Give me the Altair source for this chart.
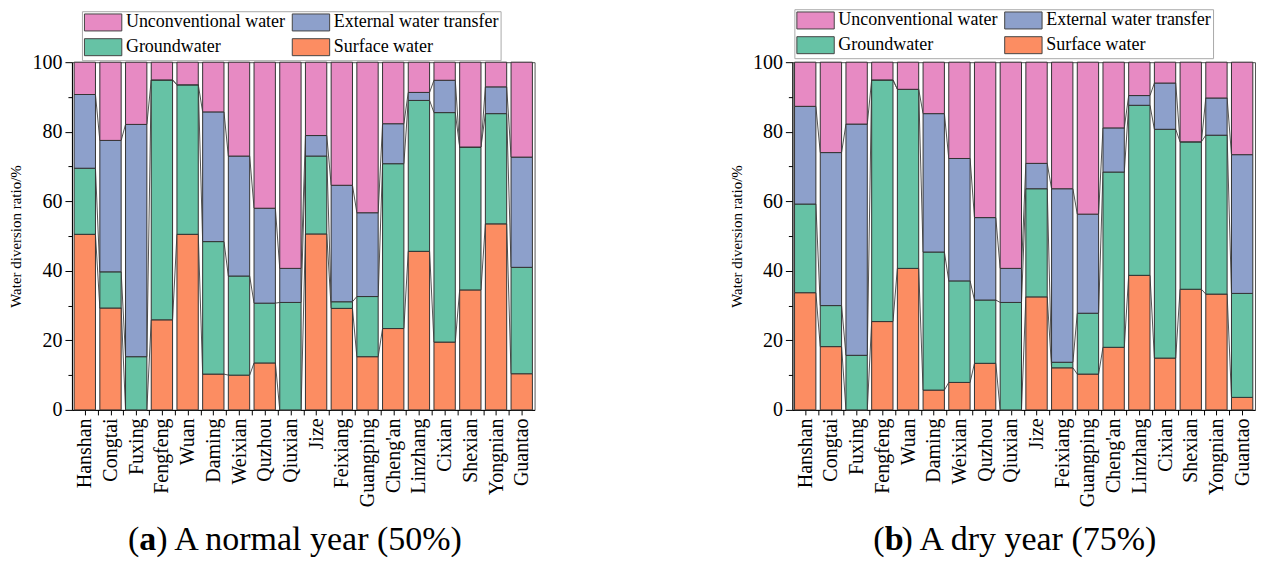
import json
import altair as alt
import pandas as pd

districts = ["Hanshan", "Congtai", "Fuxing", "Fengfeng", "Wuan", "Daming", "Weixian",
             "Quzhou", "Qiuxian", "Jize", "Feixiang", "Guangping", "Cheng'an", "Linzhang",
             "Cixian", "Shexian", "Yongnian", "Guantao"]

sources = ["Surface water", "Groundwater", "External water transfer", "Unconventional water"]
legend_order = ["Unconventional water", "External water transfer", "Groundwater", "Surface water"]
legend_colors = ["#E78AC3", "#8DA0CB", "#66C2A5", "#FC8D62"]

# (a) normal year (50%) - shares in %
normal_surface = [50.5, 29.3, 0.0, 25.9, 50.5, 10.3, 10.0, 13.5, 0.0, 50.6, 29.2, 15.3, 23.4, 45.6, 19.5, 34.5, 53.5, 10.4]
normal_ground = [19.0, 10.4, 15.3, 69.0, 43.0, 38.1, 28.5, 17.2, 30.9, 22.4, 1.9, 17.3, 47.4, 43.4, 66.0, 41.1, 31.7, 30.6]
normal_external = [21.2, 37.8, 66.8, 0.0, 0.0, 37.3, 34.5, 27.3, 9.8, 5.9, 33.5, 24.1, 11.5, 2.3, 9.3, 0.0, 7.7, 31.7]
normal_unconv = [9.3, 22.5, 17.9, 5.1, 6.5, 14.3, 27.0, 42.0, 59.3, 21.1, 35.4, 43.3, 17.7, 8.7, 5.2, 24.4, 7.1, 27.3]

# (b) dry year (75%) - shares in %
dry_surface = [33.7, 18.2, 0.0, 25.4, 40.7, 5.7, 7.9, 13.4, 0.0, 32.5, 12.1, 10.3, 18.0, 38.7, 14.9, 34.7, 33.3, 3.6]
dry_ground = [25.5, 11.8, 15.7, 69.5, 51.5, 39.7, 29.2, 18.2, 30.9, 31.1, 1.6, 17.5, 50.4, 48.9, 65.8, 42.4, 45.7, 29.9]
dry_external = [28.1, 44.0, 66.5, 0.0, 0.0, 39.8, 35.2, 23.7, 9.8, 7.3, 49.9, 28.5, 12.7, 2.8, 13.3, 0.0, 10.7, 39.9]
dry_unconv = [12.7, 26.0, 17.8, 5.1, 7.8, 14.8, 27.7, 44.7, 59.3, 29.1, 36.4, 43.7, 18.9, 9.6, 6.0, 22.9, 10.3, 26.6]

captions = [("(", "a", ") A normal year (50%)"), ("(", "b", ") A dry year (75%)")]
y_title = "Water diversion ratio/%"

FONT = "Liberation Serif"
W, H = 463, 348
HW = 0.415
CAP = 34

names_js = json.dumps(districts)


def make_xaxis():
    return alt.Axis(
        values=[v / 2 for v in range(0, 2 * len(districts) - 1)],
        labelExpr=f"{names_js}[datum.value] || ''",
        labelAngle=270, labelFontSize=20, labelPadding=3, tickSize=5,
        labelOverlap=False, labelBound=False, title=None, grid=False,
        labelFont=FONT, labelColor="black",
    )


def make_yaxis():
    return alt.Axis(
        values=list(range(0, 101, 10)),
        labelExpr="datum.value % 20 == 0 ? datum.label : ''",
        tickSize={"condition": {"test": "datum.value % 20 == 0", "value": 7}, "value": 4},
        labelFontSize=20, labelPadding=3, title=y_title, titleFontSize=15,
        titleFontWeight="normal", titlePadding=8, grid=False,
        labelFont=FONT, titleFont=FONT, labelColor="black", titleColor="black",
    )


def panel(series, caption, cap_x, leg_x, leg_y):
    rect_rows, line_rows = [], []
    for i, name in enumerate(districts):
        cum = 0.0
        for k, (src, vals) in enumerate(zip(sources, series)):
            lo, hi = cum, cum + vals[i]
            rect_rows.append({"district": name, "source": src, "x0": i - HW, "x1": i + HW, "lo": lo, "hi": hi})
            cum = hi
            if k < 3:
                line_rows.append({"b": k, "x": i - HW, "v": hi})
                line_rows.append({"b": k, "x": i + HW, "v": hi})
    rects = pd.DataFrame(rect_rows)
    lines = pd.DataFrame(line_rows)

    xscale = alt.Scale(domain=[-0.5, len(districts) - 0.5], nice=False, zero=False)
    yscale = alt.Scale(domain=[0, 100], nice=False)

    line_layer = alt.Chart(lines).mark_line(color="#555", strokeWidth=1).encode(
        x=alt.X("x:Q", scale=xscale, axis=make_xaxis()),
        y=alt.Y("v:Q", scale=yscale, axis=make_yaxis()),
        detail="b:N",
        order="x:Q",
    )
    rect_layer = alt.Chart(rects).mark_rect(stroke="#333", strokeWidth=1).encode(
        x=alt.X("x0:Q", scale=xscale, axis=make_xaxis()),
        x2="x1:Q",
        y=alt.Y("lo:Q", scale=yscale, axis=make_yaxis()),
        y2="hi:Q",
        color=alt.Color(
            "source:N",
            scale=alt.Scale(domain=legend_order, range=legend_colors),
            legend=alt.Legend(
                orient="none", legendX=leg_x, legendY=leg_y, columns=2, direction="horizontal",
                title=None,
                symbolType="M-1,-1H3.4V1H-1Z", symbolSize=289,
                symbolStrokeColor="#444", symbolStrokeWidth=1, symbolOpacity=1,
                labelFont=FONT, labelFontSize=18, labelColor="black", labelOffset=24,
                labelLimit=0, strokeColor="#aaa", fillColor="white", padding=2,
                rowPadding=3, columnPadding=4,
            ),
        ),
    )
    cap_y = H + 140
    cap1 = alt.Chart(pd.DataFrame({"t": [caption[0]]})).mark_text(
        font=FONT, fontSize=CAP, align="left", baseline="alphabetic", color="black").encode(
        x=alt.value(cap_x), y=alt.value(cap_y), text="t:N")
    cap2 = alt.Chart(pd.DataFrame({"t": [caption[1]]})).mark_text(
        font=FONT, fontSize=CAP, fontWeight="bold", align="left", baseline="alphabetic", color="black").encode(
        x=alt.value(cap_x + CAP / 3), y=alt.value(cap_y), text="t:N")
    cap3 = alt.Chart(pd.DataFrame({"t": [caption[2]]})).mark_text(
        font=FONT, fontSize=CAP, align="left", baseline="alphabetic", color="black").encode(
        x=alt.value(cap_x + CAP / 3 + CAP / 2), y=alt.value(cap_y), text="t:N")

    return alt.layer(line_layer, rect_layer, cap1, cap2, cap3).properties(width=W, height=H)


pa = panel([normal_surface, normal_ground, normal_external, normal_unconv], captions[0], 56, 10, -51)
pb = panel([dry_surface, dry_ground, dry_external, dry_unconv], captions[1], 81, 2, -53)

chart = alt.hconcat(pa, pb, spacing=193).resolve_scale(color="independent").properties(
    padding={"left": 0, "top": 0, "right": 0, "bottom": 0},
    background="white",
).configure_axis(
    labelFont=FONT, titleFont=FONT, labelColor="black", titleColor="black",
    domainColor="black", tickColor="black", domainWidth=1, tickWidth=1,
).configure_view(stroke="#555", strokeWidth=1)

chart.save("out.html", embed_options={"renderer": "svg", "actions": False})
